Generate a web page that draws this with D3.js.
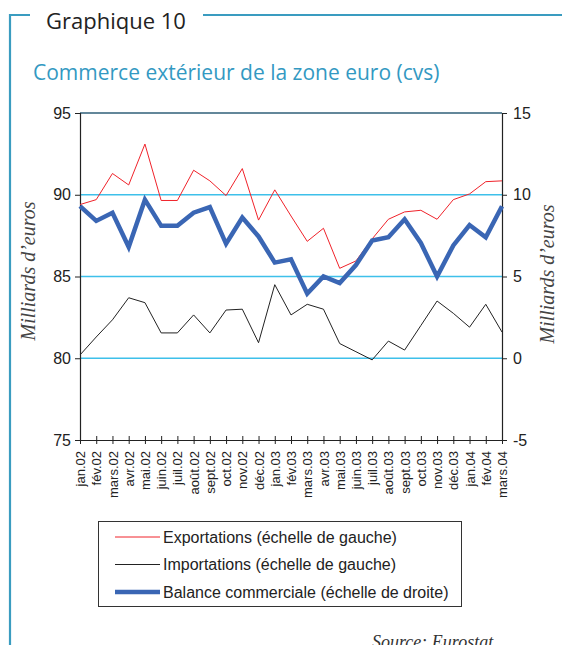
<!DOCTYPE html>
<html>
<head>
<meta charset="utf-8">
<script src="https://d3js.org/d3.v7.min.js"></script>
<style>
    body { margin: 0; background: #fff; }
    svg { display: block; }
</style>
</head>
<body>
<svg width="562" height="645"></svg>
<script>
    // months, jan.02 .. mars.04
    var months = ['jan.02', 'fév.02', 'mars.02', 'avr.02', 'mai.02', 'juin.02', 'juil.02', 'août.02',
        'sept.02', 'oct.02', 'nov.02', 'déc.02', 'jan.03', 'fév.03', 'mars.03', 'avr.03', 'mai.03',
        'juin.03', 'juil.03', 'août.03', 'sept.03', 'oct.03', 'nov.03', 'déc.03', 'jan.04', 'fév.04', 'mars.04'];

    // left scale
    var exportations = [89.4, 89.7, 91.3, 90.6, 93.1, 89.65, 89.65, 91.5, 90.85, 89.95, 91.6, 88.45, 90.3,
        88.7, 87.15, 87.95, 85.5, 85.95, 87.3, 88.5, 88.95, 89.05, 88.5, 89.7, 90.05, 90.8, 90.85];
    var importations = [80.2, 81.3, 82.35, 83.7, 83.4, 81.55, 81.55, 82.65, 81.55, 82.95, 83.0, 80.95, 84.5,
        82.65, 83.3, 83.0, 80.9, 80.4, 79.9, 81.05, 80.5, 82.0, 83.5, 82.75, 81.9, 83.3, 81.6];
    // right scale
    var balance = [9.3, 8.4, 8.9, 6.8, 9.7, 8.1, 8.1, 8.9, 9.25, 7.0, 8.6, 7.45, 5.85,
        6.05, 3.95, 5.0, 4.6, 5.7, 7.2, 7.4, 8.5, 7.05, 5.0, 6.9, 8.15, 7.4, 9.3];

    var leftTicks = [75, 80, 85, 90, 95];
    var rightTicks = [-5, 0, 5, 10, 15];

    var svg = d3.select('svg');
    var frameBlue = '#3a9cc0';
    var plotLeft = 80, plotRight = 502, plotTop = 113, plotBottom = 440;

    // frame
    svg.append('path')
        .attr('d', 'M10,645 V15 H30 M203,15 H562')
        .attr('fill', 'none')
        .attr('stroke', frameBlue)
        .attr('stroke-width', 2.2);

    svg.append('text')
        .attr('x', 46).attr('y', 29)
        .attr('font-family', 'Open Sans, sans-serif')
        .attr('font-size', 22)
        .attr('fill', '#222')
        .text('Graphique 10');

    svg.append('text')
        .attr('x', 33).attr('y', 80)
        .attr('font-family', 'Open Sans, sans-serif')
        .attr('font-size', 21)
        .attr('fill', '#3399c2')
        .text('Commerce extérieur de la zone euro (cvs)');

    var x = d3.scalePoint()
        .domain(months)
        .range([plotLeft, plotRight]);
    var yL = d3.scaleLinear()
        .domain([75, 95])
        .range([plotBottom, plotTop]);
    var yR = d3.scaleLinear()
        .domain([-5, 15])
        .range([plotBottom, plotTop]);

    // gridlines
    svg.append('g')
        .selectAll('line')
        .data([80, 85, 90])
        .enter()
        .append('line')
        .attr('x1', plotLeft).attr('x2', plotRight)
        .attr('y1', function(d) { return yL(d); })
        .attr('y2', function(d) { return yL(d); })
        .attr('stroke', '#3ec0ea')
        .attr('stroke-width', 1.3);

    svg.append('line')
        .attr('x1', plotLeft).attr('x2', plotRight)
        .attr('y1', yL(95)).attr('y2', yL(95))
        .attr('stroke', '#2f5f78')
        .attr('stroke-width', 1.3);

    // axes (plain hyphen for negatives, like the original)
    var plain = function(d) { return String(d); };
    var leftAxis = svg.append('g')
        .attr('transform', 'translate(' + plotLeft + ',0)')
        .call(d3.axisLeft(yL).tickValues(leftTicks).tickFormat(plain).tickSize(5).tickPadding(4));
    var rightAxis = svg.append('g')
        .attr('transform', 'translate(' + plotRight + ',0)')
        .call(d3.axisRight(yR).tickValues(rightTicks).tickFormat(plain).tickSize(5).tickPadding(6));
    var bottomAxis = svg.append('g')
        .attr('transform', 'translate(0,' + plotBottom + ')')
        .call(d3.axisBottom(x).tickSizeInner(4).tickSizeOuter(0).tickPadding(8));

    [leftAxis, rightAxis, bottomAxis].forEach(function(g) {
        g.select('.domain').attr('stroke', '#222').attr('stroke-width', 1.2);
        g.selectAll('.tick line').attr('stroke', '#222');
        g.selectAll('text')
            .attr('fill', '#222')
            .attr('font-family', 'Liberation Sans, Arial, sans-serif');
    });
    leftAxis.selectAll('text').attr('font-size', 16);
    rightAxis.selectAll('text').attr('font-size', 16);
    // ticks on the category axis cross the line
    bottomAxis.selectAll('.tick line').attr('y1', -4);
    bottomAxis.selectAll('.tick text')
        .attr('font-size', 13)
        .attr('text-anchor', 'end')
        .attr('dy', '0.35em')
        .attr('x', 0).attr('y', 0)
        .attr('transform', 'rotate(-90) translate(-11,0)');

    // axis titles
    svg.append('text')
        .attr('transform', 'translate(35,271) rotate(-90)')
        .attr('text-anchor', 'middle')
        .attr('font-family', 'Liberation Serif, Times New Roman, serif')
        .attr('font-style', 'italic')
        .attr('font-size', 20)
        .attr('fill', '#444')
        .text('Milliards d’euros');
    svg.append('text')
        .attr('transform', 'translate(554,274) rotate(-90)')
        .attr('text-anchor', 'middle')
        .attr('font-family', 'Liberation Serif, Times New Roman, serif')
        .attr('font-style', 'italic')
        .attr('font-size', 20)
        .attr('fill', '#444')
        .text('Milliards d’euros');

    // lines
    var lineL = d3.line()
        .x(function(d, i) { return x(months[i]); })
        .y(function(d) { return yL(d); });
    var lineR = d3.line()
        .x(function(d, i) { return x(months[i]); })
        .y(function(d) { return yR(d); });

    svg.append('path')
        .datum(importations)
        .attr('d', lineL)
        .attr('fill', 'none')
        .attr('stroke', '#222')
        .attr('stroke-width', 1);
    svg.append('path')
        .datum(exportations)
        .attr('d', lineL)
        .attr('fill', 'none')
        .attr('stroke', '#f0222a')
        .attr('stroke-width', 1);
    svg.append('path')
        .datum(balance)
        .attr('d', lineR)
        .attr('fill', 'none')
        .attr('stroke', '#3a66b4')
        .attr('stroke-width', 4.5)
        .attr('stroke-linejoin', 'miter');

    // legend
    var legendItems = [
        { label: 'Exportations (échelle de gauche)', color: '#f0222a', width: 1 },
        { label: 'Importations (échelle de gauche)', color: '#222', width: 1 },
        { label: 'Balance commerciale (échelle de droite)', color: '#3a66b4', width: 4.5 }
    ];
    svg.append('rect')
        .attr('x', 98.5).attr('y', 521.5)
        .attr('width', 363).attr('height', 85)
        .attr('fill', 'none')
        .attr('stroke', '#333')
        .attr('stroke-width', 1);
    var legend = svg.selectAll('g.legend')
        .data(legendItems)
        .enter()
        .append('g')
        .classed('legend', true)
        .attr('transform', function(d, i) { return 'translate(0,' + (537 + i * 27.5) + ')'; });
    legend.append('line')
        .attr('x1', 115).attr('x2', 160)
        .attr('stroke', function(d) { return d.color; })
        .attr('stroke-width', function(d) { return d.width; });
    legend.append('text')
        .attr('x', 163).attr('y', 0)
        .attr('dy', '0.35em')
        .attr('font-family', 'Liberation Sans, Arial, sans-serif')
        .attr('font-size', 16)
        .attr('fill', '#222')
        .text(function(d) { return d.label; });

    svg.append('text')
        .attr('x', 372).attr('y', 648)
        .attr('font-family', 'Liberation Serif, Times New Roman, serif')
        .attr('font-style', 'italic')
        .attr('font-size', 18)
        .attr('fill', '#333')
        .text('Source: Eurostat');
</script>
</body>
</html>
